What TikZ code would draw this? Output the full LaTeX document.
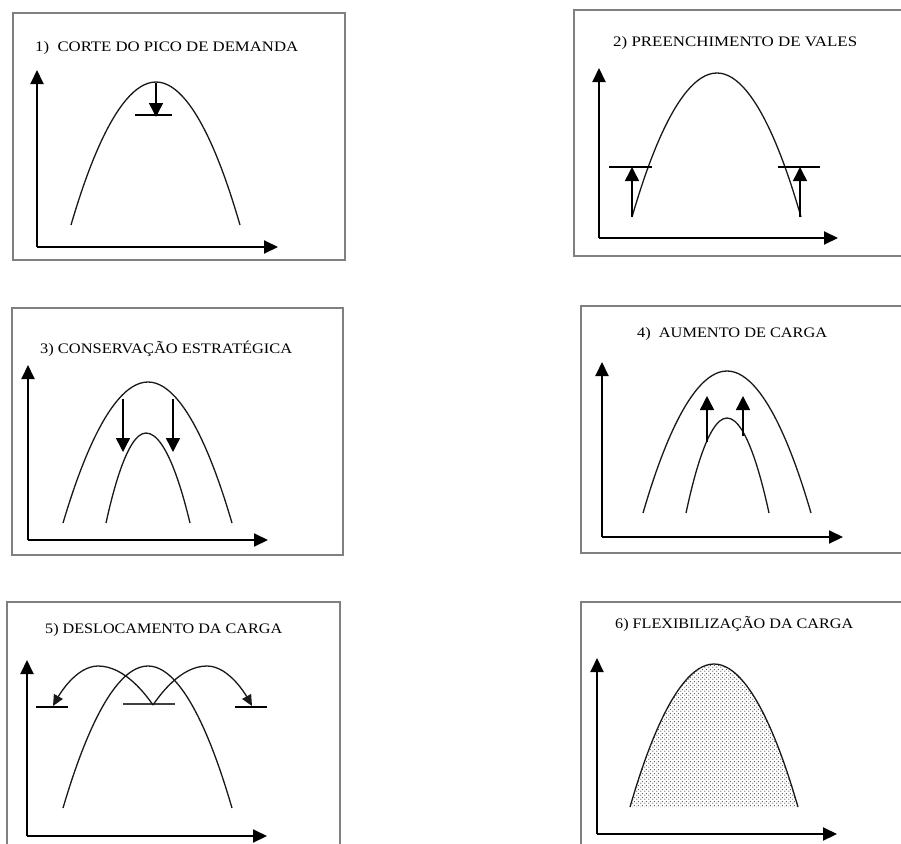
\documentclass[tikz,border=0pt]{standalone}
\usepackage{fontspec}
\setmainfont{Liberation Serif}
\usetikzlibrary{arrows.meta,patterns}
\pgfdeclarepatternformonly{mydots}{\pgfpointorigin}{\pgfqpoint{4pt}{4pt}}{\pgfqpoint{4pt}{4pt}}{%
  \pgfpathcircle{\pgfqpoint{1pt}{1pt}}{0.75pt}%
  \pgfpathcircle{\pgfqpoint{3pt}{3pt}}{0.75pt}%
  \pgfusepath{fill}}
\newcommand{\ttl}[2]{\resizebox{#1pt}{\height}{\fontsize{14.5}{15}\selectfont #2}}
\begin{document}
\begin{tikzpicture}[x=1pt,y=-1pt,
  frame/.style={draw=black!50,line width=1.8pt},
  axis/.style={line width=2pt,-{Triangle[length=14pt,width=13pt]}},
  curve/.style={draw=black!90,line width=1.3pt},
  bar/.style={line width=1.4pt},
  upd/.style={line width=1.5pt,-{Triangle[length=14pt,width=14pt]}},
  hop/.style={curve,-{Triangle[length=11pt,width=10pt]}},
  ttlnode/.style={anchor=base west,inner sep=0pt,text=black}]
\useasboundingbox (0,0) rectangle (901,843);
\clip (0,0) rectangle (901,843);
\fill[white] (0,0) rectangle (901,843);
% ---------- panel 1
\draw[frame] (13,13) rectangle (345,260);
\node[ttlnode] (t1) at (35,52) {\ttl{263}{1)\ \ CORTE DO PICO DE DEMANDA}};
\draw[axis] (37,247) -- (37,70);
\draw[axis] (37,247) -- (278,247);
\draw[curve] (71,225) parabola bend (156,82) (240,225);
\draw[upd] (156,83) -- (156,117);
\draw[bar] (135,115) -- (172,115);
% ---------- panel 2
\draw[frame] (574,10) rectangle (910,256);
\node[ttlnode] (t2) at (613,47) {\ttl{244}{2) PREENCHIMENTO DE VALES}};
\draw[axis] (599,238) -- (599,68);
\draw[axis] (599,238) -- (838,238);
\draw[curve] (632,217) parabola bend (717,73) (801,217);
\draw[bar] (609,167) -- (652,167);
\draw[bar] (778,167) -- (820,167);
\draw[upd] (632,217) -- (632,167);
\draw[upd] (800,217) -- (800,167);
% ---------- panel 3
\draw[frame] (12,308) rectangle (343,555);
\node[ttlnode] (t3) at (40,353) {\ttl{252}{3) CONSERVAÇÃO ESTRATÉGICA}};
\draw[axis] (28,540) -- (28,365);
\draw[axis] (28,540) -- (268,540);
\draw[curve] (63,523) parabola bend (148,382) (232,523);
\draw[curve] (106,523) parabola bend (146,433) (190,523);
\draw[upd] (123,399) -- (123,452);
\draw[upd] (173,399) -- (173,452);
% ---------- panel 4
\draw[frame] (581,306) rectangle (910,553);
\node[ttlnode] (t4) at (637,337) {\ttl{190}{4)\ \ AUMENTO DE CARGA}};
\draw[axis] (602,537) -- (602,362);
\draw[axis] (602,537) -- (843,537);
\draw[curve] (643,513) parabola bend (727,371) (811,513);
\draw[curve] (686,513) parabola bend (727,418) (769,513);
\draw[upd] (707,442) -- (707,396);
\draw[upd] (743,436) -- (743,396);
% ---------- panel 5
\draw[frame] (7,602) rectangle (340,860);
\node[ttlnode] (t5) at (45,633) {\ttl{237}{5) DESLOCAMENTO DA CARGA}};
\draw[axis] (27,836) -- (27,660);
\draw[axis] (27,836) -- (267,836);
\draw[curve] (63,808) parabola bend (148,666) (232,808);
\draw[bar] (36,707) -- (68,707);
\draw[bar,draw=black!75] (123,704) -- (175,704);
\draw[bar] (235,707) -- (267,707);
\draw[hop] (153,705) parabola bend (98,666) (53,706);
\draw[hop] (153,705) parabola bend (207,666) (252,706);
% ---------- panel 6
\draw[frame] (581,602) rectangle (910,860);
\node[ttlnode] (t6) at (615,628) {\ttl{238}{6) FLEXIBILIZAÇÃO DA CARGA}};
\fill[pattern=mydots,pattern color=black!70] (630,807) parabola bend (714,664) (798,807) -- cycle;
\draw[curve] (630,807) parabola bend (714,664) (798,807);
\draw[axis] (597,834) -- (597,658);
\draw[axis] (597,834) -- (837,834);
\end{tikzpicture}
\end{document}
